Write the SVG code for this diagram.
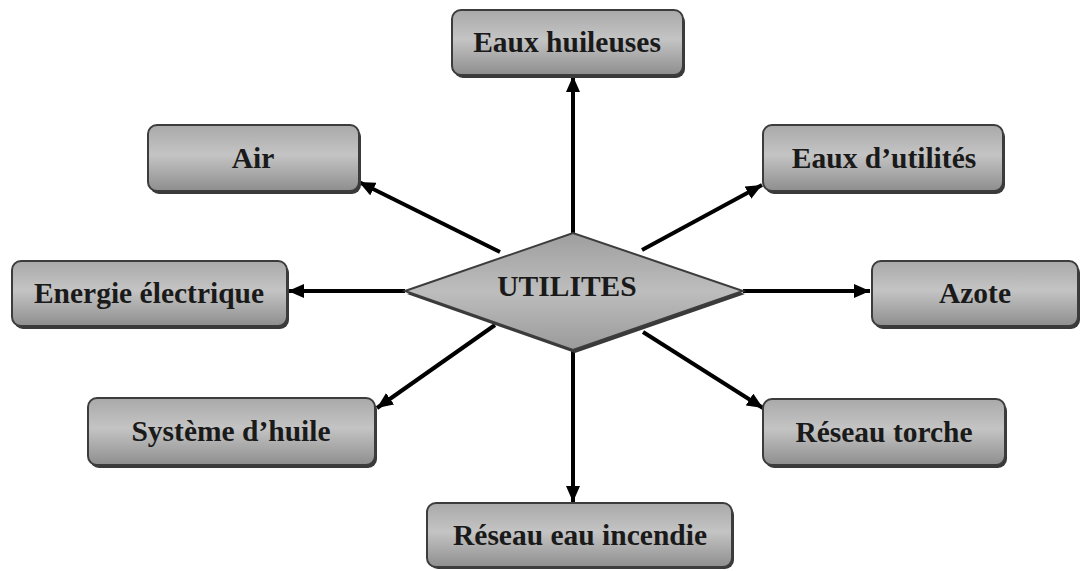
<svg xmlns="http://www.w3.org/2000/svg" width="1081" height="571" viewBox="0 0 1081 571">
<defs>
<linearGradient id="boxGrad" x1="0" y1="0" x2="0" y2="1">
<stop offset="0" stop-color="#a9a9a9"/>
<stop offset="0.45" stop-color="#c4c4c4"/>
<stop offset="1" stop-color="#8e8e8e"/>
</linearGradient>
<linearGradient id="diaGrad" x1="0" y1="0" x2="0" y2="1">
<stop offset="0" stop-color="#9e9e9e"/>
<stop offset="0.5" stop-color="#bdbdbd"/>
<stop offset="1" stop-color="#9a9a9a"/>
</linearGradient>
<marker id="arrow" markerUnits="userSpaceOnUse" markerWidth="18" markerHeight="14" refX="16" refY="7" orient="auto">
<path d="M0,0 L16,7 L0,14 z" fill="#000"/>
</marker>
</defs>
<style>
.shadow{fill:#3a3a3a;}
.box{fill:url(#boxGrad);stroke:#3c3c3c;stroke-width:2;}
.lbl{font-family:"Liberation Serif","Times New Roman",serif;font-weight:bold;font-size:29.5px;fill:#1a1a1a;text-anchor:middle;}
.conn{stroke:#000;stroke-width:4;fill:none;marker-end:url(#arrow);}
</style>
<rect width="1081" height="571" fill="#ffffff"/>
<g id="connectors">
<path class="conn" d="M573 233 L573 76"/>
<path class="conn" d="M500 252 L359 182"/>
<path class="conn" d="M642 250 L762 185"/>
<path class="conn" d="M405 291 L288 291"/>
<path class="conn" d="M743 291 L870 291"/>
<path class="conn" d="M495 325 L377 408"/>
<path class="conn" d="M643 332 L763 408"/>
<path class="conn" d="M573 350 L573 502"/>
</g>
<g id="utilites">
<polygon points="407,294 575,236 745,294 575,353" class="shadow"/>
<polygon points="405,291 573,233 743,291 573,350" fill="url(#diaGrad)" stroke="#3c3c3c" stroke-width="2"/>
<text class="lbl" x="567" y="296">UTILITES</text>
</g>
<g id="eaux-huileuses">
<rect class="shadow" x="454" y="13" width="231" height="65" rx="9"/>
<rect class="box" x="452" y="10" width="231" height="65" rx="9"/>
<text class="lbl" x="567" y="52">Eaux huileuses</text>
</g>
<g id="air">
<rect class="shadow" x="150" y="128" width="211" height="66" rx="9"/>
<rect class="box" x="148" y="125" width="211" height="66" rx="9"/>
<text class="lbl" x="253" y="168">Air</text>
</g>
<g id="eaux-utilites">
<rect class="shadow" x="765" y="128" width="240" height="66" rx="9"/>
<rect class="box" x="763" y="125" width="240" height="66" rx="9"/>
<text class="lbl" x="884" y="168">Eaux d’utilités</text>
</g>
<g id="energie">
<rect class="shadow" x="14" y="264" width="275" height="65" rx="9"/>
<rect class="box" x="12" y="261" width="275" height="65" rx="9"/>
<text class="lbl" x="149" y="303">Energie électrique</text>
</g>
<g id="azote">
<rect class="shadow" x="874" y="264" width="206" height="65" rx="9"/>
<rect class="box" x="872" y="261" width="206" height="65" rx="9"/>
<text class="lbl" x="975" y="303">Azote</text>
</g>
<g id="systeme">
<rect class="shadow" x="90" y="401" width="287" height="67" rx="9"/>
<rect class="box" x="88" y="398" width="287" height="67" rx="9"/>
<text class="lbl" x="231" y="441">Système d’huile</text>
</g>
<g id="reseau-torche">
<rect class="shadow" x="765" y="402" width="242" height="66" rx="9"/>
<rect class="box" x="763" y="399" width="242" height="66" rx="9"/>
<text class="lbl" x="884" y="442">Réseau torche</text>
</g>
<g id="reseau-incendie">
<rect class="shadow" x="429" y="506" width="305" height="63" rx="9"/>
<rect class="box" x="427" y="503" width="305" height="64" rx="9"/>
<text class="lbl" x="580" y="545">Réseau eau incendie</text>
</g>
</svg>
